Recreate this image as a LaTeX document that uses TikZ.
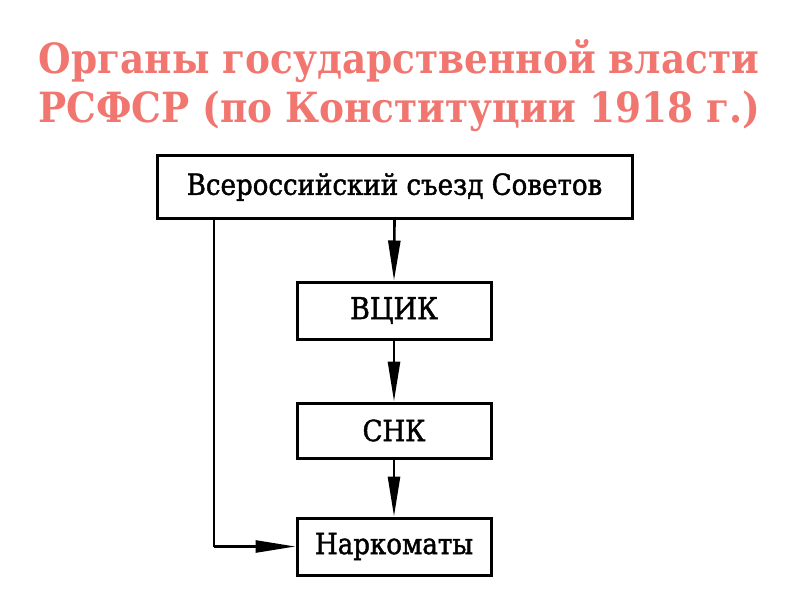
\documentclass[tikz,border=0pt]{standalone}
\usepackage{fontspec}
\setmainfont{DejaVu Serif Condensed}[FakeBold=1.5]
\newfontfamily\titlefont{DejaVu Serif Condensed}[BoldFont={DejaVu Serif Condensed Bold}]
\usetikzlibrary{arrows.meta}
\definecolor{titlered}{RGB}{242,118,112}
\tikzset{
  box/.style={draw=black, line width=3pt, rectangle, inner sep=0pt, font=\fontsize{29}{33}\selectfont},
  conn/.style={draw=black, line width=2.6pt},
  tipped/.style={conn, -{Triangle[length=40pt,width=12pt]}},
  titletext/.style={text=titlered, font=\titlefont\bfseries\fontsize{41.6}{49}\selectfont, align=center}
}
\begin{document}
\begin{tikzpicture}[x=1pt,y=-1pt]
\useasboundingbox (0,0) rectangle (800,600);
\node[titletext] (title) at (399,86) {Органы государственной власти\\РСФСР (по Конституции 1918 г.)};
\node[box, minimum width=475pt, minimum height=63pt] (s) at (394.5,187) {Всероссийский съезд Советов};
\node[box, minimum width=194pt, minimum height=57pt, font=\fontsize{30}{34}\selectfont] (v) at (394,310.5) {ВЦИК};
\node[box, minimum width=194pt, minimum height=55pt] (k) at (394,430.5) {СНК};
\node[box, minimum width=194pt, minimum height=57pt] (n) at (394,546.5) {Наркоматы};
\coordinate (lx) at (214,0);
\draw[tipped] (s.south) -- (v.north);
\draw[tipped] (v.south) -- (k.north);
\draw[tipped] (k.south) -- (n.north);
\draw[conn] (s.south -| lx) -- (n.west -| lx);
\draw[tipped] (n.west -| lx) -- (n.west);
\end{tikzpicture}
\end{document}
